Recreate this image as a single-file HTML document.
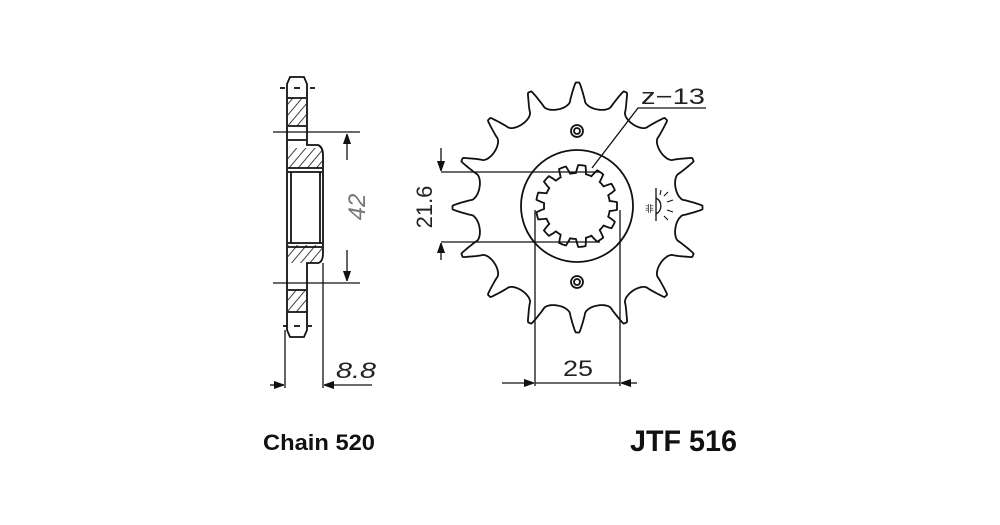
<!DOCTYPE html>
<html><head><meta charset="utf-8"><style>
html,body{margin:0;padding:0;background:#fff;width:1000px;height:525px;overflow:hidden}
svg{display:block}
text{font-family:"Liberation Sans",sans-serif}
</style></head><body>
<svg id="s" width="1000" height="525" viewBox="0 0 1000 525" xmlns="http://www.w3.org/2000/svg">
<defs>
<pattern id="h" patternUnits="userSpaceOnUse" width="7" height="7" patternTransform="rotate(40)">
<line x1="0" y1="0" x2="0" y2="7" stroke="#111" stroke-width="1.6"/>
</pattern>
<marker id="a" viewBox="0 0 10 10" refX="10" refY="5" markerWidth="10" markerHeight="10" orient="auto-start-reverse" markerUnits="userSpaceOnUse">
<path d="M0,1.5 L10,5 L0,8.5 Z" fill="#111" stroke="#111" stroke-width="1"/>
</marker>
</defs>
<g fill="none" stroke="#111" stroke-width="1.8">
<!-- side profile -->
<path d="M290,77 L304,77 L307,84 L307,145 L318,145 Q323,147 323,155 L323,253 Q323,262 318,263 L307,263 L307,330 L304,337 L290,337 L287,330 L287,84 Z"/>
<rect x="288" y="98" width="18" height="28" fill="url(#h)" stroke="none"/>
<rect x="288" y="148" width="34" height="20" fill="url(#h)" stroke="none"/>
<rect x="288" y="245" width="34" height="18" fill="url(#h)" stroke="none"/>
<rect x="288" y="290" width="18" height="22" fill="url(#h)" stroke="none"/>
<line x1="288" y1="98" x2="306" y2="98"/><line x1="288" y1="126" x2="306" y2="126"/>
<line x1="288" y1="140" x2="306" y2="140"/>
<line x1="288" y1="168" x2="322" y2="168"/><line x1="288" y1="172" x2="322" y2="172"/>
<line x1="288" y1="243" x2="322" y2="243"/><line x1="288" y1="247" x2="322" y2="247"/>
<line x1="288" y1="290" x2="306" y2="290"/><line x1="288" y1="312" x2="306" y2="312"/>
<line x1="291" y1="172" x2="291" y2="243"/><line x1="320" y1="172" x2="320" y2="243"/>
<line x1="280" y1="88" x2="285" y2="88"/><line x1="294" y1="88" x2="300" y2="88"/><line x1="310" y1="88" x2="315" y2="88"/>
<line x1="283" y1="326" x2="287" y2="326"/><line x1="294" y1="326" x2="300" y2="326"/><line x1="308" y1="326" x2="312" y2="326"/>
<line x1="273" y1="132" x2="360" y2="132" stroke-width="1.3"/>
<line x1="273" y1="283" x2="360" y2="283" stroke-width="1.3"/>
<line x1="347" y1="160" x2="347" y2="134" marker-end="url(#a)" stroke-width="1.3"/>
<line x1="347" y1="250" x2="347" y2="281" marker-end="url(#a)" stroke-width="1.3"/>
<line x1="285" y1="330" x2="285" y2="388" stroke-width="1.3"/>
<line x1="323" y1="263" x2="323" y2="388" stroke-width="1.3"/>
<line x1="270" y1="385" x2="284" y2="385" marker-end="url(#a)" stroke-width="1.3"/>
<line x1="372" y1="385" x2="324" y2="385" marker-end="url(#a)" stroke-width="1.3"/>
<!-- sprocket -->
<path id="sp"/>
<path id="spl"/>
<circle cx="577" cy="206" r="56"/>
<circle cx="577" cy="131" r="6"/><circle cx="577" cy="131" r="3"/>
<circle cx="577" cy="282" r="6"/><circle cx="577" cy="282" r="3"/>
<line x1="441" y1="172" x2="600" y2="172" stroke-width="1.3"/>
<line x1="441" y1="242" x2="600" y2="242" stroke-width="1.3"/>
<line x1="441" y1="148" x2="441" y2="171" marker-end="url(#a)" stroke-width="1.3"/>
<line x1="441" y1="260" x2="441" y2="243" marker-end="url(#a)" stroke-width="1.3"/>
<line x1="535" y1="210" x2="535" y2="386" stroke-width="1.3"/>
<line x1="620" y1="210" x2="620" y2="386" stroke-width="1.3"/>
<line x1="502" y1="383" x2="534" y2="383" marker-end="url(#a)" stroke-width="1.3"/>
<line x1="637" y1="383" x2="621" y2="383" marker-end="url(#a)" stroke-width="1.3"/>
<line x1="535" y1="383" x2="620" y2="383" stroke-width="1.3"/>
<polyline points="592,168 638,108 706,108" stroke-width="1.3"/>
<!-- sun symbol -->
<line x1="656" y1="188" x2="656" y2="221" stroke-width="1.3"/>
<path d="M656,198 A9,9 0 0 1 656,214" stroke-width="1.3"/>
<path d="M664,196 l4,-4 M667,202 l6,-2 M667,210 l6,2 M664,216 l4,4 M660,195 l1,-5" stroke-width="1.1"/>
</g>
<text x="641" y="104" font-size="22" fill="#222" textLength="64" lengthAdjust="spacingAndGlyphs">z−13</text>
<text transform="translate(432,207) rotate(-90)" font-size="22" fill="#222" text-anchor="middle">21.6</text>
<text transform="translate(365,207) rotate(-90)" font-size="24" fill="#777" text-anchor="middle" font-style="italic">42</text>
<text x="336" y="378" font-size="22" fill="#222" font-style="italic" textLength="40" lengthAdjust="spacingAndGlyphs">8.8</text>
<text x="563" y="376" font-size="22" fill="#222" textLength="30" lengthAdjust="spacingAndGlyphs">25</text>
<text x="645" y="212" font-size="9" fill="#222">非</text>
<text x="263" y="450" font-size="22" font-weight="bold" fill="#111" textLength="112" lengthAdjust="spacingAndGlyphs">Chain 520</text>
<text x="630" y="451" font-size="30" font-weight="bold" fill="#111" textLength="107" lengthAdjust="spacingAndGlyphs">JTF 516</text>
</svg>
<script>
(function(){
var cx=577.5,cy=207.5,N=16,pts=[];
for(var i=0;i<=960;i++){
  var t=i/960*2*Math.PI;
  var ph=(t*N/(2*Math.PI))%1;
  var d=Math.min(ph,1-ph);
  var r;
  if(d<0.04) r=125;
  else if(d<0.17){var u=(d-0.04)/0.13;r=125-u*17;}
  else {var u=(d-0.17)/0.33;r=108-8*Math.sqrt(Math.max(0,1-(1-u)*(1-u)));}
  pts.push((cx+r*Math.sin(t)).toFixed(1)+","+(cy-r*Math.cos(t)).toFixed(1));
}
document.getElementById("sp").setAttribute("d","M"+pts.join(" L")+"Z");
var sx=577,sy=206,M=13,p2=[];
for(var i=0;i<=780;i++){
  var t=i/780*2*Math.PI;
  var ph=((t*M/(2*Math.PI))+0.25)%1;
  var s=0.5-0.5*Math.cos(ph*2*Math.PI);
  var r=33+8*Math.min(1,Math.max(0,(s-0.3)*2.5));
  var x=sx+r*Math.sin(t),y=sy-r*Math.cos(t);
  if(x>617)x=617;
  p2.push(x.toFixed(1)+","+y.toFixed(1));
}
document.getElementById("spl").setAttribute("d","M"+p2.join(" L")+"Z");
})();
</script>
</body></html>
